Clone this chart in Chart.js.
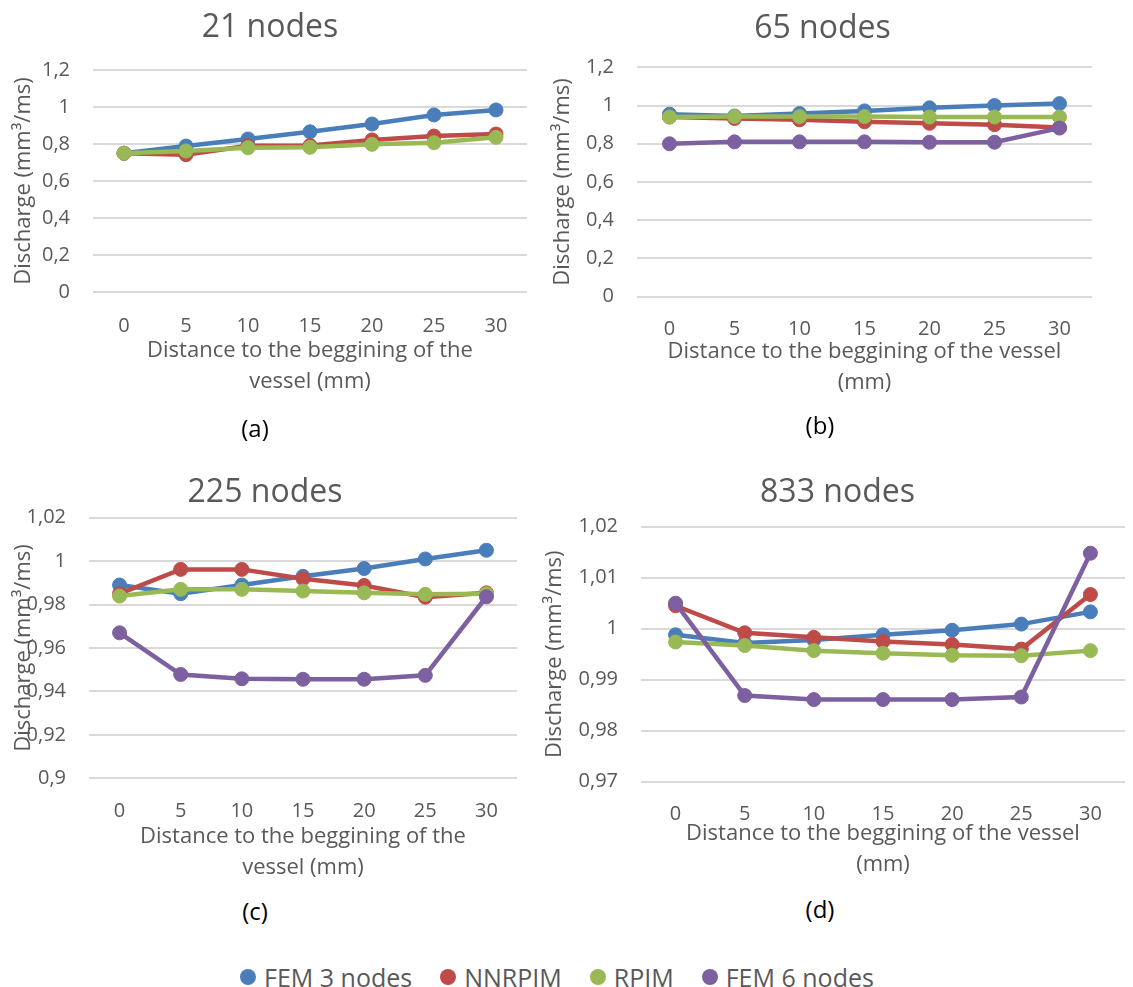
<!DOCTYPE html>
<html>
<head>
<meta charset="utf-8">
<title>Discharge along the vessel</title>
<script src="https://cdn.jsdelivr.net/npm/chart.js@4"></script>
<style>
  body { margin: 0; background: #fff; font-family: 'Open Sans', sans-serif; }
  #wrap { position: relative; width: 1133px; height: 987px; overflow: hidden; }
  canvas { position: absolute; }
  .cap { position: absolute; font-size: 24px; color: #000; transform: translate(-50%, -50%); white-space: nowrap; }
  #legend { position: absolute; left: 240px; top: 960px; display: flex; align-items: center; font-size: 25px; color: #595959; }
  .item { display: flex; align-items: center; margin-right: 28px; }
  .dot { width: 16px; height: 16px; border-radius: 50%; margin-right: 8px; }
</style>
</head>
<body>
<div id="wrap">
  <canvas id="cA" width="540" height="400" style="left:0px;top:0px"></canvas>
  <canvas id="cB" width="555" height="400" style="left:545px;top:0px"></canvas>
  <canvas id="cC" width="530" height="446" style="left:0px;top:440px"></canvas>
  <canvas id="cD" width="591" height="443" style="left:542px;top:440px"></canvas>
  <div class="cap" style="left:255px;top:427px">(a)</div>
  <div class="cap" style="left:820px;top:424px">(b)</div>
  <div class="cap" style="left:255px;top:910px">(c)</div>
  <div class="cap" style="left:820px;top:908px">(d)</div>
  <div id="legend"></div>
</div>
<script>
// distance to the beginning of the vessel (mm)
const xLabels = ['0', '5', '10', '15', '20', '25', '30'];
const seriesNames = ['FEM 3 nodes', 'NNRPIM', 'RPIM', 'FEM 6 nodes'];
const seriesColors = ['#4A7EBB', '#BE4B48', '#98B954', '#7D60A0'];

// 21 nodes
const fem3_21 = [0.75, 0.789, 0.827, 0.866, 0.908, 0.957, 0.984];
const nnrpim_21 = [0.75, 0.742, 0.79, 0.792, 0.822, 0.843, 0.854];
const rpim_21 = [0.75, 0.762, 0.78, 0.782, 0.798, 0.807, 0.836];

// 65 nodes
const fem3_65 = [0.955, 0.945, 0.958, 0.972, 0.988, 1.0, 1.01];
const nnrpim_65 = [0.94, 0.932, 0.925, 0.915, 0.907, 0.9, 0.885];
const rpim_65 = [0.94, 0.942, 0.942, 0.942, 0.94, 0.94, 0.94];
const fem6_65 = [0.8, 0.81, 0.81, 0.81, 0.808, 0.808, 0.882];

// 225 nodes
const fem3_225 = [0.989, 0.985, 0.989, 0.993, 0.9966, 1.001, 1.005];
const nnrpim_225 = [0.985, 0.9962, 0.9962, 0.9919, 0.9888, 0.9834, 0.9854];
const rpim_225 = [0.9839, 0.987, 0.987, 0.9862, 0.9854, 0.9847, 0.985];
const fem6_225 = [0.967, 0.9478, 0.9458, 0.9456, 0.9456, 0.9474, 0.9836];

// 833 nodes
const fem3_833 = [0.9988, 0.9972, 0.9978, 0.9988, 0.9997, 1.0009, 1.0033];
const nnrpim_833 = [1.0045, 0.9992, 0.9983, 0.9975, 0.9969, 0.996, 1.0067];
const rpim_833 = [0.9974, 0.9967, 0.9957, 0.9952, 0.9948, 0.9947, 0.9957];
const fem6_833 = [1.005, 0.9869, 0.9861, 0.9861, 0.9861, 0.9866, 1.0148];

// y tick values
const yTicksCoarse = [0, 0.2, 0.4, 0.6, 0.8, 1, 1.2];
const yTicks225 = [0.9, 0.92, 0.94, 0.96, 0.98, 1, 1.02];
const yTicks833 = [0.97, 0.98, 0.99, 1, 1.01, 1.02];

const xTitleShort = ['Distance to the beggining of the', 'vessel (mm)'];
const xTitleLong = ['Distance to the beggining of the vessel', '(mm)'];
const yTitle = 'Discharge (mm³/ms)';

const FONT = "'Open Sans', sans-serif";
const GREY = '#595959';

function makeChart(p) {
    const datasets = p.series.map((vals, i) => ({
        label: seriesNames[i],
        data: vals,
        borderColor: seriesColors[i],
        backgroundColor: seriesColors[i],
        pointBackgroundColor: seriesColors[i],
        pointBorderColor: seriesColors[i],
        borderWidth: 4.5,
        pointRadius: 7,
        pointBorderWidth: 1,
        order: 4 - i,
        tension: 0
    }));

    new Chart(document.getElementById(p.id), {
        type: 'line',
        data: { labels: xLabels, datasets: datasets },
        options: {
            responsive: false,
            animation: false,
            layout: { padding: 0 },
            plugins: {
                legend: { display: false },
                tooltip: { enabled: false },
                title: {
                    display: true,
                    text: p.title,
                    color: GREY,
                    font: { family: FONT, size: 32, weight: 'normal' },
                    padding: { top: p.tTop, bottom: p.tBot }
                }
            },
            scales: {
                x: {
                    offset: true,
                    grid: { display: false, drawTicks: false },
                    border: { display: false },
                    ticks: { color: GREY, font: { family: FONT, size: 20 }, padding: p.xTickPad },
                    title: {
                        display: true,
                        text: p.xTitle,
                        color: GREY,
                        font: { family: FONT, size: 22, lineHeight: 31 / 22 },
                        padding: { top: 0, bottom: p.xTitleBot }
                    },
                    afterFit: s => { s.height = p.xH; }
                },
                y: {
                    min: p.yTicks[0],
                    max: p.yTicks[p.yTicks.length - 1],
                    grid: { color: '#D9D9D9', lineWidth: 2, drawTicks: false },
                    border: { display: false },
                    afterBuildTicks: s => { s.ticks = p.yTicks.map(v => ({ value: v })); },
                    ticks: {
                        color: GREY,
                        font: { family: FONT, size: 20 },
                        padding: 23,
                        callback: v => String(v).replace('.', ',')
                    },
                    title: {
                        display: true,
                        text: yTitle,
                        color: GREY,
                        font: { family: FONT, size: 22, lineHeight: 1.2 },
                        padding: { top: p.yTitleTop, bottom: 0 }
                    },
                    afterFit: s => { s.width = p.yW; }
                },
                yR: {
                    type: 'linear',
                    position: 'right',
                    display: true,
                    grid: { display: false, drawTicks: false },
                    border: { display: false },
                    ticks: { display: false },
                    afterFit: s => { s.width = p.rW; }
                }
            }
        }
    });
}

makeChart({
    id: 'cA', title: '21 nodes', series: [fem3_21, nnrpim_21, rpim_21],
    yTicks: yTicksCoarse, xTitle: xTitleShort,
    tTop: 9, tBot: 22.6, yW: 93, rW: 13, yTitleTop: 10.6,
    xH: 108, xTickPad: 22, xTitleBot: 3
});

makeChart({
    id: 'cB', title: '65 nodes', series: [fem3_65, nnrpim_65, rpim_65, fem6_65],
    yTicks: yTicksCoarse, xTitle: xTitleLong,
    tTop: 9.8, tBot: 19.1, yW: 92, rW: 2, yTitleTop: 4.5,
    xH: 103.3, xTickPad: 20.5, xTitleBot: 2.2
});

makeChart({
    id: 'cC', title: '225 nodes', series: [fem3_225, nnrpim_225, rpim_225, fem6_225],
    yTicks: yTicks225, xTitle: xTitleShort,
    tTop: 33.3, tBot: 6, yW: 89, rW: 13, yTitleTop: 10.8,
    xH: 107.7, xTickPad: 20.5, xTitleBot: 2.7
});

makeChart({
    id: 'cD', title: '833 nodes', series: [fem3_833, nnrpim_833, rpim_833, fem6_833],
    yTicks: yTicks833, xTitle: xTitleLong,
    tTop: 33.3, tBot: 15, yW: 99, rW: 3, yTitleTop: 0,
    xH: 101.3, xTickPad: 20.5, xTitleBot: 3
});

// shared legend under the four panels
const legend = document.getElementById('legend');
seriesNames.forEach((name, i) => {
    const item = document.createElement('div');
    item.className = 'item';
    const dot = document.createElement('span');
    dot.className = 'dot';
    dot.style.background = seriesColors[i];
    const label = document.createElement('span');
    label.textContent = name;
    item.appendChild(dot);
    item.appendChild(label);
    legend.appendChild(item);
});
</script>
</body>
</html>
